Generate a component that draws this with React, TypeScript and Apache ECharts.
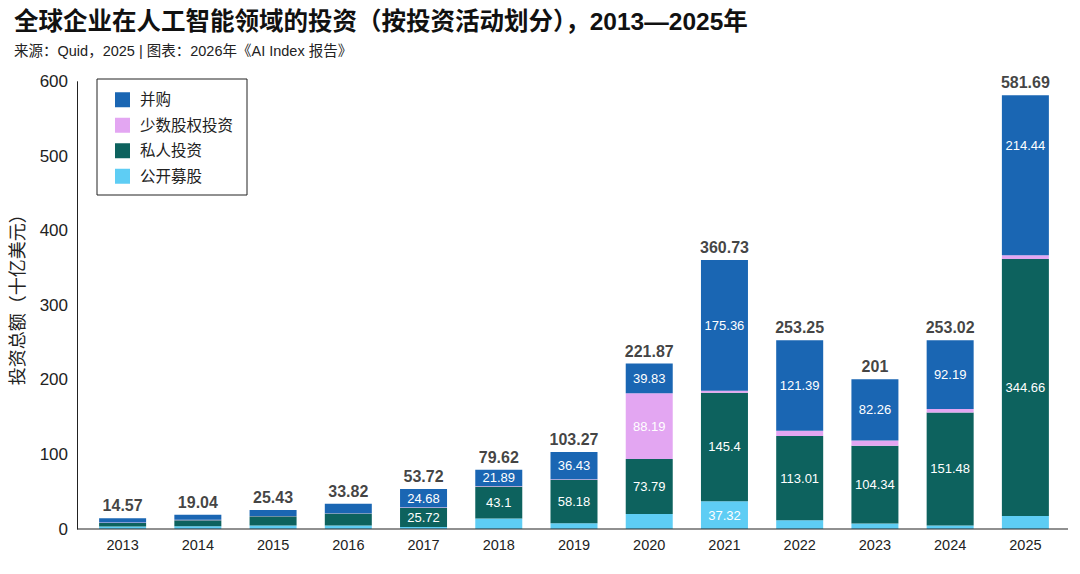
import React, { useEffect, useRef } from "react";
import * as echarts from "echarts";

const years = ["2013", "2014", "2015", "2016", "2017", "2018", "2019", "2020", "2021", "2022", "2023", "2024", "2025"];
const mergers = [5.9, 6.7, 7.97, 12.56, 24.68, 21.89, 36.43, 39.83, 175.36, 121.39, 82.26, 92.19, 214.44];
const minority = [0.5, 0.5, 0.5, 0.5, 0.6, 0.7, 0.8, 88.19, 2.65, 7.2, 7.0, 4.5, 5.09];
const privateInv = [4.9, 8.3, 12.34, 16.08, 25.72, 43.1, 58.18, 73.79, 145.4, 113.01, 104.34, 151.48, 344.66];
const publicOffer = [3.27, 3.54, 4.62, 4.68, 2.72, 13.93, 7.86, 20.06, 37.32, 11.65, 7.4, 4.85, 17.5];
const totals = [14.57, 19.04, 25.43, 33.82, 53.72, 79.62, 103.27, 221.87, 360.73, 253.25, 201, 253.02, 581.69];
const yTicks = [0, 100, 200, 300, 400, 500, 600];

const FONT = '"Liberation Sans", "Noto Sans CJK SC", sans-serif';
const COLORS = {
  mergers: "#1a66b3",
  minority: "#e3a6f2",
  privateInv: "#0d625e",
  publicOffer: "#5ecdf4",
};

const innerLabel = {
  show: true,
  position: "inside",
  color: "#ffffff",
  fontSize: 13,
  fontFamily: FONT,
  formatter: (p: any) => (p.value >= 21 ? String(p.value) : ""),
};

export default function App() {
  const ref = useRef<HTMLDivElement>(null);
  useEffect(() => {
    document.body.style.margin = "0";
    if (!ref.current) return;
    const chart = echarts.init(ref.current, null, { renderer: "svg" });
    const mergersData = mergers.map((v, i) =>
      i === mergers.length - 1
        ? { value: v, label: { position: "insideTop", distance: 44 } }
        : v
    );
    chart.setOption({
      animation: false,
      backgroundColor: "#ffffff",
      textStyle: { fontFamily: FONT },
      title: {
        text: "全球企业在人工智能领域的投资（按投资活动划分），2013—2025年",
        subtext: "来源：Quid，2025 | 图表：2026年《AI Index 报告》",
        left: 14,
        top: 9,
        itemGap: 10,
        padding: 0,
        textStyle: { fontSize: 24.5, fontWeight: "bold", color: "#111", fontFamily: FONT },
        subtextStyle: { fontSize: 14.5, color: "#222", fontFamily: FONT },
      },
      legend: {
        data: ["并购", "少数股权投资", "私人投资", "公开募股"],
        orient: "vertical",
        left: 97,
        top: 79,
        padding: [13, 14, 11, 18],
        itemWidth: 15,
        itemHeight: 15,
        itemGap: 10,
        icon: "rect",
        borderColor: "#222",
        borderWidth: 1,
        textStyle: { fontSize: 15.5, color: "#222", fontFamily: FONT, padding: [0, 0, 0, 5] },
      },
      grid: { left: 85, right: 17, top: 81.7, bottom: 45, containLabel: false },
      xAxis: {
        type: "category",
        data: years,
        axisLine: { show: false },
        axisTick: { show: false },
        axisLabel: { fontSize: 14.5, color: "#222", margin: 9, fontFamily: FONT },
      },
      yAxis: {
        type: "value",
        min: 0,
        max: 600,
        interval: 100,
        offset: 8,
        name: "投资总额（十亿美元）",
        nameLocation: "middle",
        nameGap: 50,
        nameTextStyle: { fontSize: 18, color: "#222", fontFamily: FONT, padding: [0, 0, 0, 20] },
        axisLine: { show: true, lineStyle: { color: "#222", width: 1 } },
        axisTick: { show: false },
        splitLine: { show: false },
        axisLabel: {
          fontSize: 17,
          color: "#222",
          margin: 9,
          fontFamily: FONT,
          formatter: (v: number) => (yTicks.includes(v) ? String(v) : ""),
        },
      },
      graphic: [
        {
          type: "line",
          shape: { x1: 77, y1: 529, x2: 1068, y2: 529 },
          style: { stroke: "#222", lineWidth: 1.2 },
          z: 100,
        },
      ],
      series: [
        {
          name: "公开募股",
          type: "bar",
          stack: "total",
          barWidth: 47,
          data: publicOffer,
          itemStyle: { color: COLORS.publicOffer },
          label: innerLabel,
        },
        {
          name: "私人投资",
          type: "bar",
          stack: "total",
          barWidth: 47,
          data: privateInv,
          itemStyle: { color: COLORS.privateInv },
          label: innerLabel,
        },
        {
          name: "少数股权投资",
          type: "bar",
          stack: "total",
          barWidth: 47,
          data: minority,
          itemStyle: { color: COLORS.minority },
          label: innerLabel,
        },
        {
          name: "并购",
          type: "bar",
          stack: "total",
          barWidth: 47,
          data: mergersData,
          itemStyle: { color: COLORS.mergers },
          label: innerLabel,
        },
        {
          name: "总计",
          type: "scatter",
          data: totals,
          symbolSize: 1,
          itemStyle: { color: "rgba(0,0,0,0)" },
          silent: true,
          label: {
            show: true,
            position: "top",
            distance: 4,
            color: "#111",
            fontSize: 16,
            fontWeight: "bold",
            fontFamily: FONT,
            formatter: (p: any) => String(totals[p.dataIndex]),
          },
        },
      ],
    });
    return () => chart.dispose();
  }, []);
  return <div ref={ref} style={{ width: 1080, height: 574 }} />;
}
